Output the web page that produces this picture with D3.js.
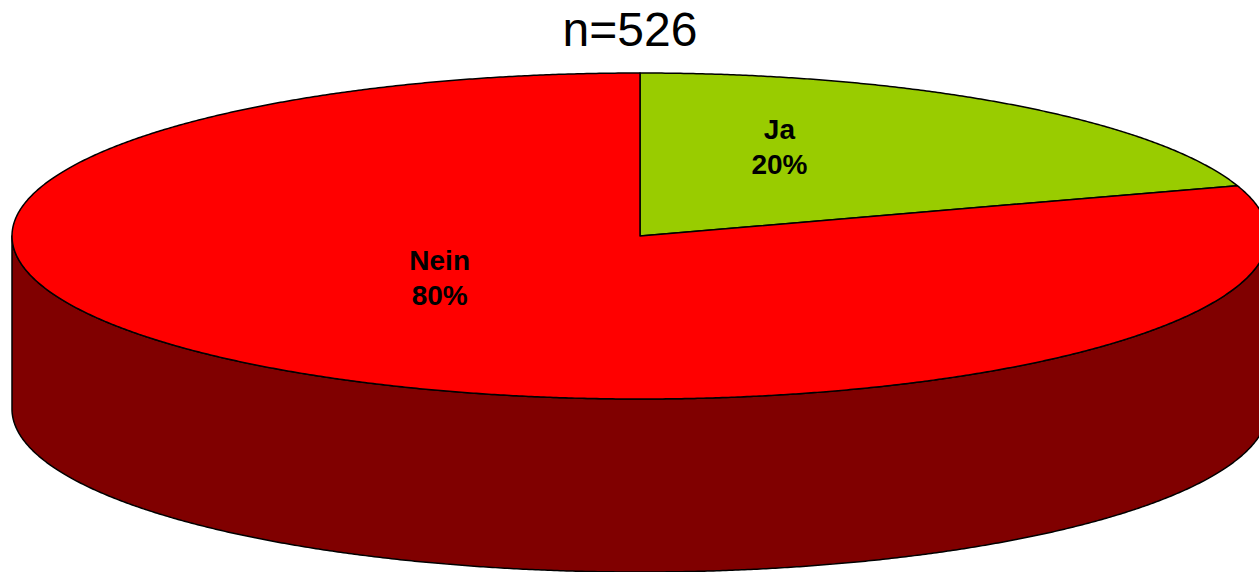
<!DOCTYPE html>
<html>
	<head>
		<script src="https://d3js.org/d3.v7.min.js"></script>
		<style>
			body { margin: 0; background: #fff; }
			text { font-family: "Liberation Sans", Arial, sans-serif; }
		</style>
	</head>
	<body>
		<svg id="chart" width="1259" height="572"></svg>

		<script type="text/javascript">
			var categories = ['Ja', 'Nein'];
			var values = [20, 80];
			var labels = ['20%', '80%'];
			var colors = ['#99CC00', '#FF0000'];
			var sideColors = ['#4C6600', '#800000'];
			var title = 'n=526';

			// label anchor in units of the ellipse radii (Excel-style placement)
			var labelPos = [[0.222, -0.56], [-0.319, 0.24]];

			var cx = 640, cy = 236, rx = 628, ry = 163, depth = 173;

			var svg = d3.select('#chart');

			var pie = d3.pie().sort(null).startAngle(0).endAngle(2 * Math.PI);
			var arcs = pie(values);

			function pt(a, dy) {
				return [cx + rx * Math.sin(a), cy - ry * Math.cos(a) + (dy || 0)];
			}

			function arcPoints(a0, a1, dy) {
				var n = Math.max(2, Math.ceil(Math.abs(a1 - a0) / 0.005));
				return d3.range(n + 1).map(function(i) {
					return pt(a0 + (a1 - a0) * i / n, dy);
				});
			}

			var line = d3.line();

			// side walls (only the front half, PI/2 .. 3PI/2, is visible)
			arcs.forEach(function(d, i) {
				var a0 = Math.max(d.startAngle, Math.PI / 2);
				var a1 = Math.min(d.endAngle, 3 * Math.PI / 2);
				if (a1 <= a0) return;
				var pts = arcPoints(a0, a1, 0).concat(arcPoints(a1, a0, depth));
				svg.append('path')
					.attr('d', line(pts) + 'Z')
					.attr('fill', sideColors[i])
					.attr('stroke', '#000')
					.attr('stroke-width', 1.5)
					.attr('stroke-linejoin', 'round');
			});

			// top surfaces
			svg.selectAll('path.top')
				.data(arcs)
				.enter().append('path')
				.attr('class', 'top')
				.attr('d', function(d) {
					return line([[cx, cy]].concat(arcPoints(d.startAngle, d.endAngle, 0))) + 'Z';
				})
				.attr('fill', function(d, i) { return colors[i]; })
				.attr('stroke', '#000')
				.attr('stroke-width', 1.5)
				.attr('stroke-linejoin', 'round');

			// labels
			var lbl = svg.selectAll('text.lbl')
				.data(arcs)
				.enter().append('text')
				.attr('class', 'lbl')
				.attr('text-anchor', 'middle')
				.attr('font-size', 28)
				.attr('font-weight', 'bold')
				.attr('fill', '#000')
				.attr('x', function(d, i) { return cx + labelPos[i][0] * rx; })
				.attr('y', function(d, i) { return cy + labelPos[i][1] * ry; });

			lbl.append('tspan')
				.attr('x', function(d, i) { return cx + labelPos[i][0] * rx; })
				.attr('dy', '-0.2em')
				.text(function(d, i) { return categories[i]; });
			lbl.append('tspan')
				.attr('x', function(d, i) { return cx + labelPos[i][0] * rx; })
				.attr('dy', '1.25em')
				.text(function(d, i) { return labels[i]; });

			svg.append('text')
				.attr('x', 630)
				.attr('y', 46)
				.attr('text-anchor', 'middle')
				.attr('font-size', 48)
				.attr('fill', '#000')
				.text(title);
		</script>
	</body>
</html>
